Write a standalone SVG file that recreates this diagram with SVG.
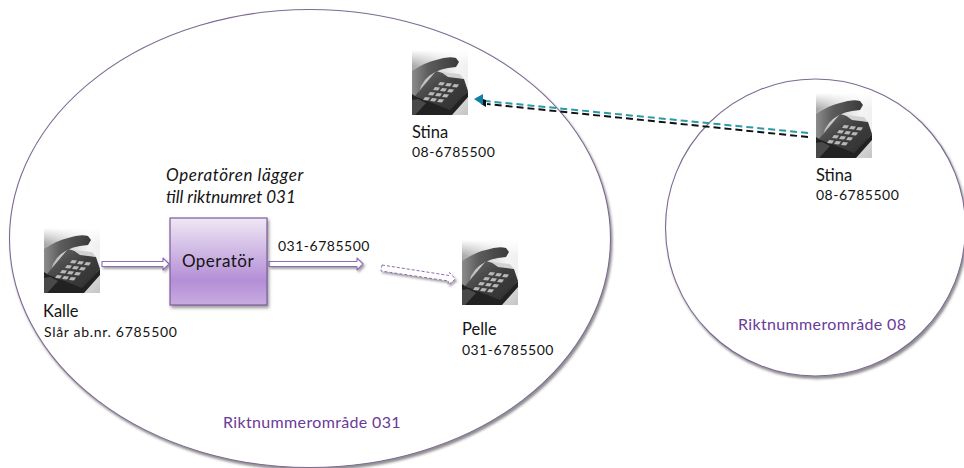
<svg xmlns="http://www.w3.org/2000/svg" width="964" height="468" viewBox="0 0 964 468">
<style>
text{font-family:"Lato","Liberation Sans",sans-serif;fill:#141414}
.n{font-size:16.5px}
.s{font-size:14px;letter-spacing:.5px}
.i{font-size:17px;font-style:italic}
.r{font-size:16px;fill:#6a3a98;letter-spacing:.35px}
.area{fill:#fff;stroke:#7d6a92;stroke-width:1.1}
.shaft{fill:#fff;stroke:#8e6cb5;stroke-width:1.1;stroke-linejoin:round}
.shaftd{fill:#fff;stroke:#8e6cb5;stroke-width:1;stroke-dasharray:3 2}
.key{fill:#b8b8b8}
</style>
<defs>
<linearGradient id="bg" x1="0" y1="0" x2="1" y2="0"><stop offset="0" stop-color="#a8a8a8"/><stop offset=".4" stop-color="#d4d4d4"/><stop offset=".8" stop-color="#f4f4f4"/><stop offset="1" stop-color="#f0f0f0"/></linearGradient>
<linearGradient id="top" x1="0" y1="0" x2="0" y2="1"><stop offset="0" stop-color="#fff"/><stop offset="1" stop-color="#fff" stop-opacity="0"/></linearGradient>
<linearGradient id="floor" x1="0" y1="0" x2="1" y2="1"><stop offset="0" stop-color="#f2f2f2"/><stop offset="1" stop-color="#c4c4c4"/></linearGradient>
<linearGradient id="body" x1="0" y1="0" x2="1" y2="1"><stop offset="0" stop-color="#6a6a6a"/><stop offset=".5" stop-color="#3e3e3e"/><stop offset="1" stop-color="#2e2e2e"/></linearGradient>
<linearGradient id="hs" x1="0" y1="0" x2="1" y2="0"><stop offset="0" stop-color="#8c8c8c"/><stop offset=".35" stop-color="#5c5c5c"/><stop offset="1" stop-color="#3a3a3a"/></linearGradient>
<linearGradient id="op" x1="0" y1="0" x2="0" y2="1"><stop offset="0" stop-color="#efe8f4"/><stop offset=".72" stop-color="#b48ed6"/><stop offset="1" stop-color="#c9ace2"/></linearGradient>
<filter id="sh" x="-20%" y="-20%" width="150%" height="150%"><feDropShadow dx="1.5" dy="2.500" stdDeviation="1.5" flood-color="#555" flood-opacity=".6"/></filter>
<filter id="sa" x="-5%" y="-5%" width="110%" height="110%"><feDropShadow dx="1.500" dy="2.500" stdDeviation="1.300" flood-color="#333" flood-opacity=".55"/></filter>
<filter id="sb" x="-10%" y="-60%" width="120%" height="260%"><feDropShadow dx="1.500" dy="2" stdDeviation="1.200" flood-color="#444" flood-opacity=".5"/></filter>
<filter id="soft" x="-5%" y="-5%" width="110%" height="110%"><feGaussianBlur stdDeviation=".5"/></filter>
<symbol id="phone" viewBox="0 0 56 65" width="56" height="65" overflow="hidden">
<rect width="56" height="65" fill="url(#bg)"/>
<rect width="56" height="16" fill="url(#top)"/>
<g filter="url(#soft)">
<path d="M30 65L56 40V65Z" fill="url(#floor)"/>
<path d="M0 21Q14 12 24 10Q36 6 44 8L47 12L44 17L36 18Q22 20 13 30L9 36L6 46L0 50Z" fill="url(#hs)"/>
<path d="M3 46L24 21L52 29L56 41L38 62Z" fill="url(#body)"/>
<path d="M29 22L48 24L52 29L36 27Z" fill="#d2d2d2"/>
<path d="M0 44L3 46L38 60L56 41V47L40 65H0Z" fill="#242424"/>
<path d="M0 50L6 49L14 53L3 65H0Z" fill="#4a4a4a"/>
<path class="key" d="M28 32l5 .5l-2 3l-5-.5zM35 33l5 .5l-2 3l-5-.5zM42 34l5 .5l-2 3l-5-.5zM23 37l5 .5l-2 3l-5-.5zM30 38l5 .5l-2 3l-5-.5zM37 39l5 .5l-2 3l-5-.5zM18 42l5 .5l-2 3l-5-.5zM25 43l5 .5l-2 3l-5-.5zM32 44l5 .5l-2 3l-5-.5zM13 47l5 .5l-2 3l-5-.5zM20 48l5 .5l-2 3l-5-.5zM27 49l5 .5l-2 3l-5-.5z"/>
</g>
</symbol>
</defs>
<g id="area-031"><ellipse class="area" cx="310" cy="238.500" rx="300.500" ry="229" filter="url(#sa)"/><text class="r" x="223" y="428">Riktnummerområde 031</text></g>
<g id="area-08"><ellipse class="area" cx="815.500" cy="227.500" rx="150" ry="148.500" filter="url(#sa)"/><text class="r" x="738" y="330">Riktnummerområde 08</text></g>
<g id="connectors">
<path class="shaft" d="M102 261.500H163V258L169 264L163 270V266.500H102Z" filter="url(#sb)"/>
<path class="shaft" d="M269 261.500H357V258L363 264L357 270V266.500H269Z" filter="url(#sb)"/>
<path class="shaftd" d="M382 265L449 275.500L449.500 272.500L455.500 279L448 285L448.500 281L381 271Z" filter="url(#sb)"/>
<line x1="808" y1="133" x2="485" y2="101" stroke="#2a9aa6" stroke-width="2" stroke-dasharray="7 4"/>
<line x1="808" y1="137" x2="487" y2="104" stroke="#111" stroke-width="2" stroke-dasharray="7 4"/>
<path d="M480 98L486 100L486 107L481 104Z" fill="#111"/>
<path d="M474 99L483 94L483 105Z" fill="#0f7fa5"/>
</g>
<g id="phone-stina-1"><use href="#phone" x="412" y="50"/><text class="n" x="412" y="138">Stina</text><text class="s" x="412" y="157">08-6785500</text></g>
<g id="phone-stina-2"><use href="#phone" x="816" y="93"/><text class="n" x="816" y="181">Stina</text><text class="s" x="816" y="200">08-6785500</text></g>
<g id="phone-kalle"><use href="#phone" x="44" y="228"/><text class="n" x="43" y="317">Kalle</text><text class="s" x="44" y="337" style="letter-spacing:.7px">Slår ab.nr. 6785500</text></g>
<g id="phone-pelle"><use href="#phone" x="462" y="240"/><text class="n" x="462" y="335">Pelle</text><text class="s" x="462" y="355">031-6785500</text></g>
<g id="operator"><rect x="170" y="218" width="97" height="87" fill="url(#op)" stroke="#7d5a9e" stroke-width="1.2" filter="url(#sh)"/><text x="218" y="267" text-anchor="middle" font-size="17" letter-spacing=".5">Operatör</text></g>
<text class="s" x="278" y="251">031-6785500</text>
<text class="i" x="166" y="181" letter-spacing=".6">Operatören lägger</text>
<text class="i" x="166" y="203">till riktnumret 031</text>
</svg>
